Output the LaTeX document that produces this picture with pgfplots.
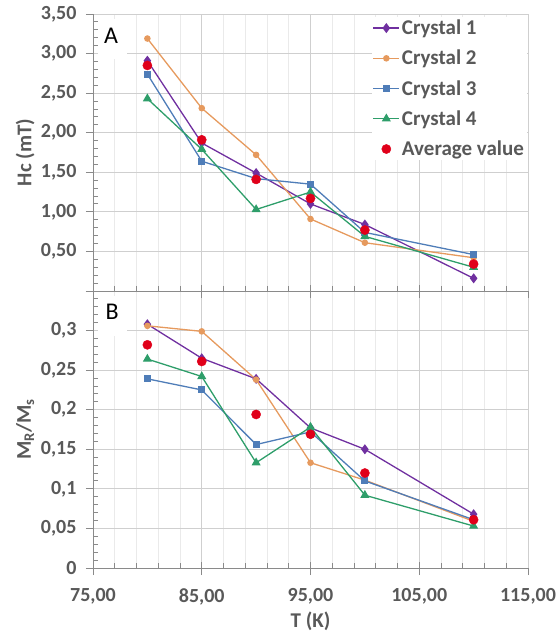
\documentclass[border=0pt]{standalone}
\usepackage{fontspec}
\setmainfont{Carlito}
\usepackage{pgfplots}
\usepackage{pgfplotstable}
\pgfplotsset{compat=1.18}

\definecolor{cA}{HTML}{7030A0}
\definecolor{cB}{HTML}{E69A5E}
\definecolor{cC}{HTML}{4F7DB8}
\definecolor{cD}{HTML}{2E9E6A}
\definecolor{cavg}{HTML}{E0001A}
\definecolor{txt}{HTML}{595959}
\definecolor{axl}{HTML}{8A8A8A}
\definecolor{grd}{HTML}{CFCFCF}
\definecolor{grdmin}{HTML}{EAEAEA}

% coercivity (mT) vs temperature
\pgfplotstableread{
T    c1    c2    c3    c4    avg
80   2.91  3.19  2.74  2.43  2.85
85   1.87  2.31  1.64  1.79  1.91
90   1.49  1.72  1.42  1.03  1.41
95   1.10  0.91  1.35  1.25  1.17
100  0.84  0.61  0.74  0.69  0.77
110  0.16  0.42  0.46  0.30  0.34
}\hcdata

% remanence ratio vs temperature
\pgfplotstableread{
T    c1     c2     c3     c4     avg
80   0.308  0.306  0.239  0.264  0.282
85   0.265  0.299  0.225  0.242  0.261
90   0.239  0.238  0.156  0.133  0.194
95   0.177  0.133  0.172  0.178  0.169
100  0.150  0.111  0.110  0.092  0.120
110  0.068  0.059  0.061  0.053  0.061
}\mrdata

\pgfplotsset{
  panel/.style={
    scale only axis, width=435pt, height=277pt,
    xmin=75, xmax=115, xtick={75,85,...,115},
    minor x tick num=4, minor y tick num=4,
    axis lines=left, axis line style={draw=axl, line width=0.9pt, -},
    xmajorgrids, xminorgrids, ymajorgrids,
    major grid style={draw=grd, line width=0.9pt},
    minor grid style={draw=grdmin, line width=0.7pt},
    tick align=outside, major tick length=7pt, minor tick length=-5pt,
    tick style={draw=axl, line width=0.9pt},
    ticklabel style={font=\bfseries\fontsize{20}{24}\selectfont, text=txt},
    yticklabel style={xshift=-6pt},
    xticklabel style={yshift=-10pt},
    label style={font=\bfseries\fontsize{21}{25}\selectfont, text=txt},
    % inner half of the major x ticks
    extra x ticks={85,95,105}, extra x tick labels={},
    extra x tick style={grid=none, tick align=inside, major tick length=6pt},
    clip=false,
    legend image code/.code={\draw[mark repeat=2,mark phase=2,##1] plot coordinates {(0pt,0pt)(13pt,0pt)(26pt,0pt)};},
  },
  s1/.style={color=cA, line width=1.3pt, mark=diamond*, mark size=4pt, mark options={solid}},
  s2/.style={color=cB, line width=1.3pt, mark=*, mark size=2.6pt, mark options={solid}},
  s3/.style={color=cC, line width=1.3pt, mark=square*, mark size=2.8pt, mark options={solid}},
  s4/.style={color=cD, line width=1.3pt, mark=triangle*, mark size=4pt, mark options={solid}},
  sa/.style={color=cavg, only marks, mark=*, mark size=4.6pt},
}

\begin{document}
\begin{tikzpicture}
% panel B: remanence ratio
\begin{axis}[panel, at={(0pt,0pt)}, anchor=south west,
  ymin=0, ymax=0.35,
  ytick={0,0.05,0.1,0.15,0.2,0.25,0.3,0.35},
  yticklabels={{0},{0,05},{0,1},{0,15},{0,2},{0,25},{0,3},{}},
  xticklabels={{75,00},{85,00},{95,00},{105,00},{115,00}},
  xlabel={T (K)}, ylabel={M\textsubscript{R}/M\textsubscript{s}},
  xlabel style={at={(axis description cs:0.5,-0.194)}, anchor=center},
  ylabel style={at={(axis description cs:-0.156,0.5)}, anchor=center},
]
\fill[white] (axis cs:75.5,0.3437) rectangle (axis cs:78.1,0.293);
\node[font=\fontsize{24}{28}\selectfont, text=black] at (axis cs:76.75,0.3234) {B};
\addplot[s1] table[x=T,y=c1] {\mrdata};
\addplot[s2] table[x=T,y=c2] {\mrdata};
\addplot[s3] table[x=T,y=c3] {\mrdata};
\addplot[s4] table[x=T,y=c4] {\mrdata};
\addplot[sa] table[x=T,y=avg] {\mrdata};
\end{axis}

% panel A: coercivity
\begin{axis}[panel, at={(0pt,277pt)}, anchor=south west,
  ymin=0, ymax=3.5,
  ytick={0,0.5,1,1.5,2,2.5,3,3.5},
  yticklabels={{},{0,50},{1,00},{1,50},{2,00},{2,50},{3,00},{3,50}},
  xticklabels={},
  ylabel={Hc (mT)},
  ylabel style={at={(axis description cs:-0.156,0.5)}, anchor=center},
  legend cell align=left,
  legend style={at={(axis description cs:0.998,0.99)}, anchor=north east,
    fill=white, draw=none, font=\bfseries\fontsize{21}{25}\selectfont, text=txt,
    row sep=10pt, inner sep=1pt},
]
\fill[white] (axis cs:75.5,3.437) rectangle (axis cs:78.1,2.93);
\node[font=\fontsize{24}{28}\selectfont, text=black] at (axis cs:76.66,3.22) {A};
\addplot[s1] table[x=T,y=c1] {\hcdata};
\addlegendentry{Crystal 1}
\addplot[s2] table[x=T,y=c2] {\hcdata};
\addlegendentry{Crystal 2}
\addplot[s3] table[x=T,y=c3] {\hcdata};
\addlegendentry{Crystal 3}
\addplot[s4] table[x=T,y=c4] {\hcdata};
\addlegendentry{Crystal 4}
\addplot[sa] table[x=T,y=avg] {\hcdata};
\addlegendentry{Average value}
\end{axis}

\pgfresetboundingbox
\path[use as bounding box] (-93pt,-64pt) rectangle (464pt,568pt);
\end{tikzpicture}
\end{document}
